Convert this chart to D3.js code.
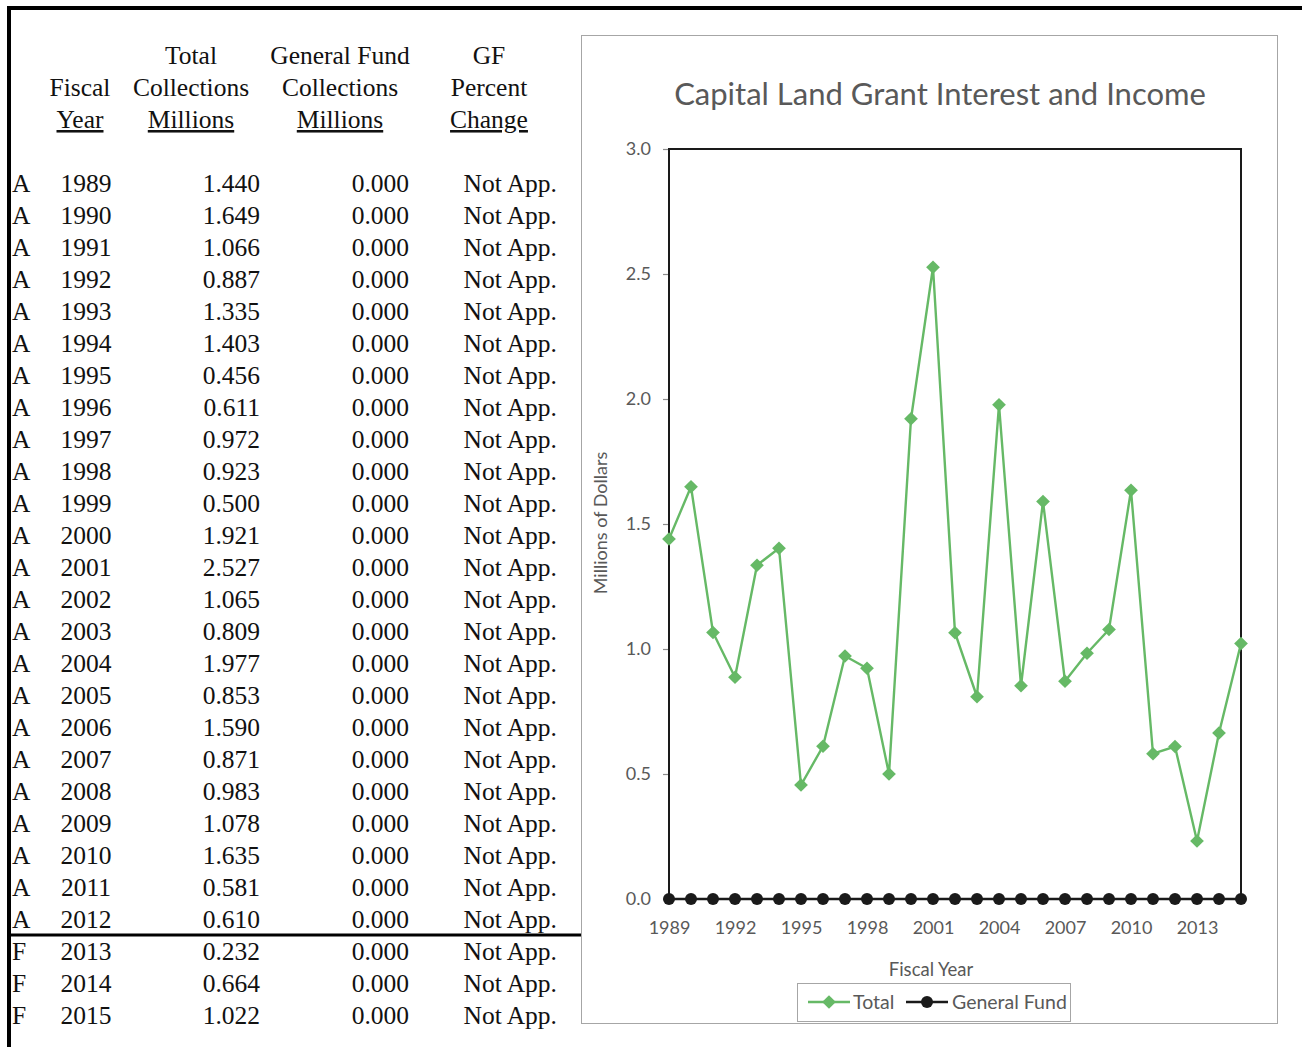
<!DOCTYPE html>
<html>
<head>
<meta charset="utf-8">
<script src="https://cdn.jsdelivr.net/npm/d3@7"></script>
<style>
  html, body { margin: 0; padding: 0; background: #fff; }
  svg { display: block; }
</style>
</head>
<body>
<svg id="page" width="1302" height="1047"></svg>
<script>
// Capital Land Grant Interest and Income, fiscal years 1989-2015
const status = ["A","A","A","A","A","A","A","A","A","A","A","A","A","A","A","A","A","A","A","A","A","A","A","A","F","F","F"];
const years = [1989,1990,1991,1992,1993,1994,1995,1996,1997,1998,1999,2000,2001,2002,2003,2004,2005,2006,2007,2008,2009,2010,2011,2012,2013,2014,2015];
const totalCollections = [1.440,1.649,1.066,0.887,1.335,1.403,0.456,0.611,0.972,0.923,0.500,1.921,2.527,1.065,0.809,1.977,0.853,1.590,0.871,0.983,1.078,1.635,0.581,0.610,0.232,0.664,1.022];
const generalFund = [0,0,0,0,0,0,0,0,0,0,0,0,0,0,0,0,0,0,0,0,0,0,0,0,0,0,0];
const gfPercentChange = years.map(() => "Not App.");
const yTicks = [0.0,0.5,1.0,1.5,2.0,2.5,3.0];
const xTickYears = [1989,1992,1995,1998,2001,2004,2007,2010,2013];

const svg = d3.select("#page");

// ---- page frame ----
svg.append("line").attr("x1", 7).attr("x2", 1302).attr("y1", 8).attr("y2", 8)
  .attr("stroke", "#000").attr("stroke-width", 4);
svg.append("line").attr("x1", 9).attr("x2", 9).attr("y1", 6).attr("y2", 1047)
  .attr("stroke", "#000").attr("stroke-width", 4);

// ---- table ----
const tbl = svg.append("g").attr("font-family", "'Liberation Serif', 'Times New Roman', serif")
  .attr("font-size", 25.5).attr("fill", "#111");

const headers = [
  { x: 80, lines: ["", "Fiscal", "Year"] },
  { x: 191, lines: ["Total", "Collections", "Millions"] },
  { x: 340, lines: ["General Fund", "Collections", "Millions"] },
  { x: 489, lines: ["GF", "Percent", "Change"] }
];
const headerY = [64, 96, 128];
headers.forEach(h => {
  h.lines.forEach((ln, i) => {
    if (!ln) return;
    const t = tbl.append("text").attr("x", h.x).attr("y", headerY[i])
      .attr("text-anchor", "middle").text(ln);
    if (i === 2) t.attr("text-decoration", "underline");
  });
});

const rowY = d3.scaleLinear().domain([0, years.length - 1]).range([192, 1024]);
years.forEach((yr, i) => {
  const y = rowY(i);
  tbl.append("text").attr("x", 12).attr("y", y).text(status[i]);
  tbl.append("text").attr("x", 86).attr("y", y).attr("text-anchor", "middle").text(yr);
  tbl.append("text").attr("x", 260).attr("y", y).attr("text-anchor", "end").text(totalCollections[i].toFixed(3));
  tbl.append("text").attr("x", 409).attr("y", y).attr("text-anchor", "end").text(generalFund[i].toFixed(3));
  tbl.append("text").attr("x", 557).attr("y", y).attr("text-anchor", "end").text(gfPercentChange[i]);
});
// actual / forecast separator
const sepIdx = status.indexOf("F");
const sepY = (rowY(sepIdx - 1) + rowY(sepIdx)) / 2 - 9;
svg.append("line").attr("x1", 9).attr("x2", 582)
  .attr("y1", sepY).attr("y2", sepY)
  .attr("stroke", "#000").attr("stroke-width", 3);

// ---- chart ----
const chartFont = "Lato, 'Open Sans', sans-serif";
const textColor = "#595959";
const green = "#66b966";

svg.append("rect").attr("x", 581.5).attr("y", 35.5).attr("width", 696).attr("height", 988)
  .attr("fill", "#fff").attr("stroke", "#a6a6a6").attr("stroke-width", 1);

svg.append("text").attr("x", 940).attr("y", 105).attr("text-anchor", "middle")
  .attr("font-family", chartFont).attr("font-size", 31).attr("fill", textColor)
  .text("Capital Land Grant Interest and Income");

const plot = { left: 669, right: 1241, top: 149, bottom: 899 };
const x = d3.scaleLinear().domain([years[0], years[years.length - 1]]).range([plot.left, plot.right]);
const y = d3.scaleLinear().domain([0, 3]).range([plot.bottom, plot.top]);

// y axis ticks and labels
const yAxis = svg.append("g").attr("transform", `translate(${plot.left},0)`)
  .call(d3.axisLeft(y).tickValues(yTicks).tickFormat(d3.format(".1f")).tickSize(6).tickPadding(12));
yAxis.select(".domain").remove();
yAxis.selectAll(".tick line").attr("stroke", "#8c8c8c").attr("stroke-width", 1.2);
yAxis.selectAll(".tick text").attr("font-family", chartFont).attr("font-size", 18).attr("fill", textColor);

// x axis labels
const xAxis = svg.append("g").attr("transform", `translate(0,${plot.bottom})`)
  .call(d3.axisBottom(x).tickValues(xTickYears).tickFormat(d3.format("d")).tickSize(0).tickPadding(22));
xAxis.select(".domain").remove();
xAxis.selectAll(".tick text").attr("font-family", chartFont).attr("font-size", 18).attr("fill", textColor);

// plot frame
svg.append("rect").attr("x", plot.left).attr("y", plot.top)
  .attr("width", plot.right - plot.left).attr("height", plot.bottom - plot.top)
  .attr("fill", "none").attr("stroke", "#1a1a1a").attr("stroke-width", 2);

// axis titles
svg.append("text").attr("x", 931).attr("y", 976).attr("text-anchor", "middle")
  .attr("font-family", chartFont).attr("font-size", 18.5).attr("fill", textColor).text("Fiscal Year");
svg.append("text").attr("transform", "translate(607,523) rotate(-90)").attr("text-anchor", "middle")
  .attr("font-family", chartFont).attr("font-size", 18).attr("fill", textColor).text("Millions of Dollars");

// series
const totalData = years.map((yr, i) => ({ yr, v: totalCollections[i] }));
const gfData = years.map((yr, i) => ({ yr, v: generalFund[i] }));
const line = d3.line().x(d => x(d.yr)).y(d => y(d.v));
const diamond = d3.symbol().type(d3.symbolDiamond2).size(120);

svg.append("path").datum(totalData).attr("d", line)
  .attr("fill", "none").attr("stroke", green).attr("stroke-width", 2.4);
svg.append("g").selectAll("path").data(totalData).join("path")
  .attr("transform", d => `translate(${x(d.yr)},${y(d.v)})`)
  .attr("d", diamond).attr("fill", green);

svg.append("path").datum(gfData).attr("d", line)
  .attr("fill", "none").attr("stroke", "#1a1a1a").attr("stroke-width", 2.4);
svg.append("g").selectAll("circle").data(gfData).join("circle")
  .attr("cx", d => x(d.yr)).attr("cy", d => y(d.v)).attr("r", 6).attr("fill", "#1a1a1a");

// legend
const lg = svg.append("g");
lg.append("rect").attr("x", 797.5).attr("y", 983.5).attr("width", 273).attr("height", 38)
  .attr("fill", "#fff").attr("stroke", "#a6a6a6");
const legendItems = [
  { label: "Total", color: green, x0: 808, tx: 853, marker: "diamond" },
  { label: "General Fund", color: "#1a1a1a", x0: 906, tx: 952, marker: "circle" }
];
legendItems.forEach(it => {
  lg.append("line").attr("x1", it.x0).attr("x2", it.x0 + 42).attr("y1", 1002).attr("y2", 1002)
    .attr("stroke", it.color).attr("stroke-width", 2.4);
  if (it.marker === "diamond") {
    lg.append("path").attr("transform", `translate(${it.x0 + 21},1002)`).attr("d", diamond).attr("fill", it.color);
  } else {
    lg.append("circle").attr("cx", it.x0 + 21).attr("cy", 1002).attr("r", 6).attr("fill", it.color);
  }
  lg.append("text").attr("x", it.tx).attr("y", 1009).attr("font-family", chartFont)
    .attr("font-size", 19.5).attr("fill", textColor).text(it.label);
});
</script>
</body>
</html>
